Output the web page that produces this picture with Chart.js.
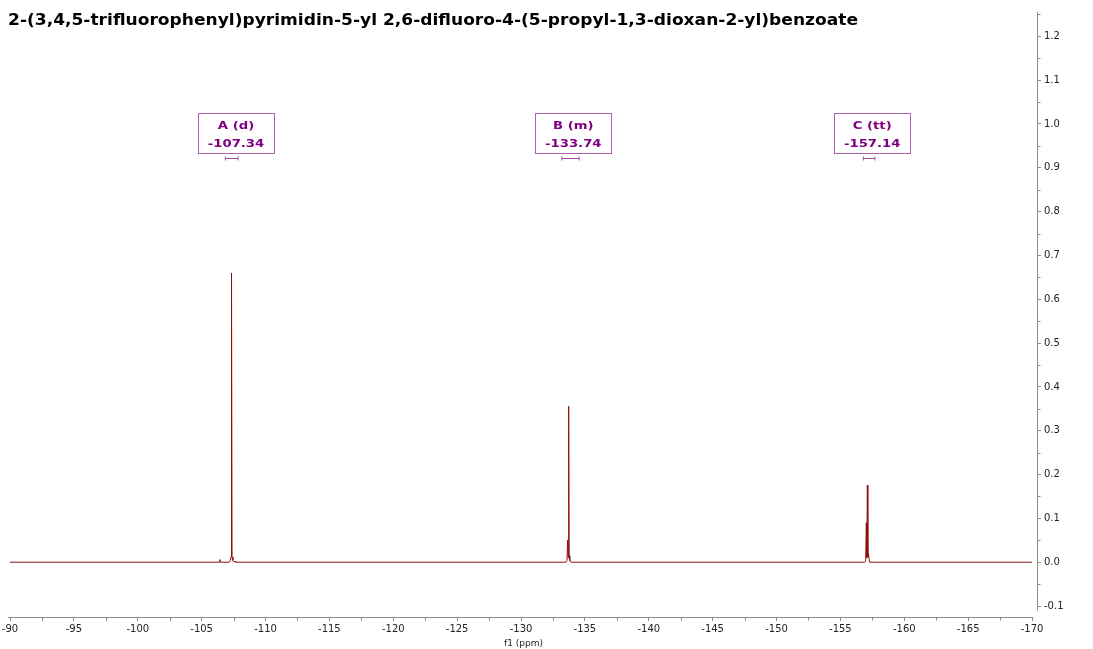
<!DOCTYPE html>
<html>
<head>
<meta charset="utf-8">
<script src="https://cdn.jsdelivr.net/npm/chart.js@4.4.0/dist/chart.umd.min.js"></script>
<style>
html, body { margin: 0; padding: 0; background: #fff; }
#wrap { position: relative; width: 1093px; height: 649px; }
</style>
</head>
<body>
<div id="wrap"><canvas id="spectrum"></canvas></div>
<script>
// ----- values -----
const chartTitle = '2-(3,4,5-trifluorophenyl)pyrimidin-5-yl 2,6-difluoro-4-(5-propyl-1,3-dioxan-2-yl)benzoate';

// chemical shift (ppm) and intensity of the trace
const shiftPpm = [
    -90, -106.36, -106.42, -106.48,
    -107.15, -107.25, -107.30, -107.32, -107.34, -107.36, -107.38, -107.45, -107.58, -107.62, -107.68,
    -133.52, -133.60, -133.65, -133.69, -133.73, -133.77, -133.82, -133.92,
    -156.90, -156.98, -157.03, -157.07, -157.11, -157.15, -157.19, -157.28,
    -170
];
const intensity = [
    0, 0, 0.006, 0,
    0, 0.004, 0.012, 0.66, 0.03, 0.645, 0.012, 0.004, 0, 0.002, 0,
    0, 0.004, 0.05, 0.01, 0.356, 0.015, 0.003, 0,
    0, 0.003, 0.09, 0.01, 0.176, 0.012, 0.02, 0,
    0
];

// multiplet labels and integration ranges
const peakNames = ['A (d)', 'B (m)', 'C (tt)'];
const peakShifts = [-107.34, -133.74, -157.14];
const rangeStart = [-106.85, -133.20, -156.80];
const rangeEnd = [-107.85, -134.55, -157.70];

// axes
const xMin = -170, xMax = -90, xStep = 5;
const yMin = -0.125, yMax = 1.26, yStep = 0.1;

const axisGray = '#8a8a8a';
const labelPurple = '#800080';

// draw text stretched sideways (the original fonts are wider than DejaVu)
function wideText(ctx, text, x, y, stretch) {
    ctx.save();
    ctx.translate(x, y);
    ctx.scale(stretch, 1);
    ctx.fillText(text, 0, 0);
    ctx.restore();
}

// minor ticks, title, axis lines and multiplet boxes
const nmrDecor = {
    id: 'nmrDecor',
    afterDraw(chart) {
        const { ctx, chartArea } = chart;
        const xs = chart.scales.x, ys = chart.scales.y;
        ctx.save();

        // axis lines
        ctx.strokeStyle = axisGray;
        ctx.lineWidth = 1;
        ctx.beginPath();
        const bottom = Math.round(chartArea.bottom) + 0.5;
        ctx.moveTo(xs.getPixelForValue(xMax) - 2, bottom);
        ctx.lineTo(xs.getPixelForValue(xMin), bottom);
        const yLine = Math.round(chartArea.right) + 0.5;
        ctx.moveTo(yLine, chartArea.top + 2);
        ctx.lineTo(yLine, ys.getPixelForValue(-0.11));
        ctx.stroke();

        // minor ticks
        ctx.beginPath();
        for (let v = xMax - xStep / 2; v > xMin; v -= xStep) {
            const px = Math.round(xs.getPixelForValue(v)) + 0.5;
            ctx.moveTo(px, bottom);
            ctx.lineTo(px, bottom + 3);
        }
        for (let v = -0.05; v < yMax; v += yStep) {
            const py = Math.round(ys.getPixelForValue(v)) + 0.5;
            ctx.moveTo(yLine, py);
            ctx.lineTo(yLine + 3, py);
        }
        ctx.stroke();

        // title
        ctx.fillStyle = '#000';
        ctx.font = 'bold 15px "DejaVu Sans"';
        ctx.textBaseline = 'middle';
        ctx.textAlign = 'left';
        const titleStretch = 850 / ctx.measureText(chartTitle).width;
        wideText(ctx, chartTitle, 8, 21, titleStretch);

        // multiplet boxes
        peakNames.forEach((name, i) => {
            const cx = xs.getPixelForValue(peakShifts[i]) + 4.5;
            const top = ys.getPixelForValue(1.025);
            const w = 76, h = 40;
            ctx.strokeStyle = '#b060b0';
            ctx.fillStyle = '#fff';
            ctx.fillRect(cx - w / 2, top, w, h);
            ctx.strokeRect(Math.round(cx - w / 2) + 0.5, Math.round(top) + 0.5, w, h);
            ctx.fillStyle = labelPurple;
            ctx.textAlign = 'center';
            ctx.font = 'bold 11px "DejaVu Sans"';
            wideText(ctx, name, cx, top + 13, 1.2);
            wideText(ctx, peakShifts[i].toFixed(2), cx, top + 31, 1.2);

            // integration bracket
            const x1 = xs.getPixelForValue(rangeStart[i]);
            const x2 = xs.getPixelForValue(rangeEnd[i]);
            const by = Math.round(ys.getPixelForValue(0.922)) + 0.5;
            ctx.strokeStyle = '#a050a0';
            ctx.beginPath();
            ctx.moveTo(x1, by); ctx.lineTo(x2, by);
            ctx.moveTo(x1, by - 2); ctx.lineTo(x1, by + 2);
            ctx.moveTo(x2, by - 2); ctx.lineTo(x2, by + 2);
            ctx.stroke();
        });
        ctx.restore();
    }
};

const points = shiftPpm.map((p, i) => ({ x: p, y: intensity[i] }));

new Chart(document.getElementById('spectrum'), {
    type: 'line',
    data: {
        datasets: [{
            data: points,
            borderColor: '#8b1010',
            borderWidth: 1,
            pointRadius: 0,
            tension: 0,
            fill: false
        }]
    },
    options: {
        responsive: true,
        maintainAspectRatio: false,
        animation: false,
        events: [],
        layout: { padding: { left: 10, right: 0, top: 10, bottom: 0 } },
        plugins: {
            legend: { display: false },
            tooltip: { enabled: false }
        },
        scales: {
            x: {
                type: 'linear',
                reverse: true,
                min: xMin - 0.39,
                max: xMax,
                border: { display: false },
                grid: { drawOnChartArea: false, tickLength: 4, tickColor: axisGray },
                ticks: {
                    stepSize: xStep,
                    includeBounds: false,
                    maxRotation: 0,
                    autoSkip: false,
                    padding: 2,
                    color: '#222',
                    font: { family: '"DejaVu Sans"', size: 10 }
                },
                title: {
                    display: true,
                    text: 'f1 (ppm)',
                    color: '#222',
                    font: { family: '"DejaVu Sans"', size: 9 },
                    padding: 0
                },
                afterFit(scale) {
                    scale.height = 32;
                    scale.paddingLeft = 0;
                    scale.paddingRight = 0;
                }
            },
            y: {
                position: 'right',
                min: yMin,
                max: yMax,
                border: { display: false },
                grid: { drawOnChartArea: false, tickLength: 4, tickColor: axisGray },
                ticks: {
                    stepSize: yStep,
                    includeBounds: false,
                    padding: 3,
                    color: '#222',
                    font: { family: '"DejaVu Sans"', size: 10 },
                    callback: v => v.toFixed(1)
                },
                afterFit(scale) {
                    scale.width = 56;
                    scale.paddingTop = 0;
                    scale.paddingBottom = 0;
                }
            }
        }
    },
    plugins: [nmrDecor]
});
</script>
</body>
</html>
